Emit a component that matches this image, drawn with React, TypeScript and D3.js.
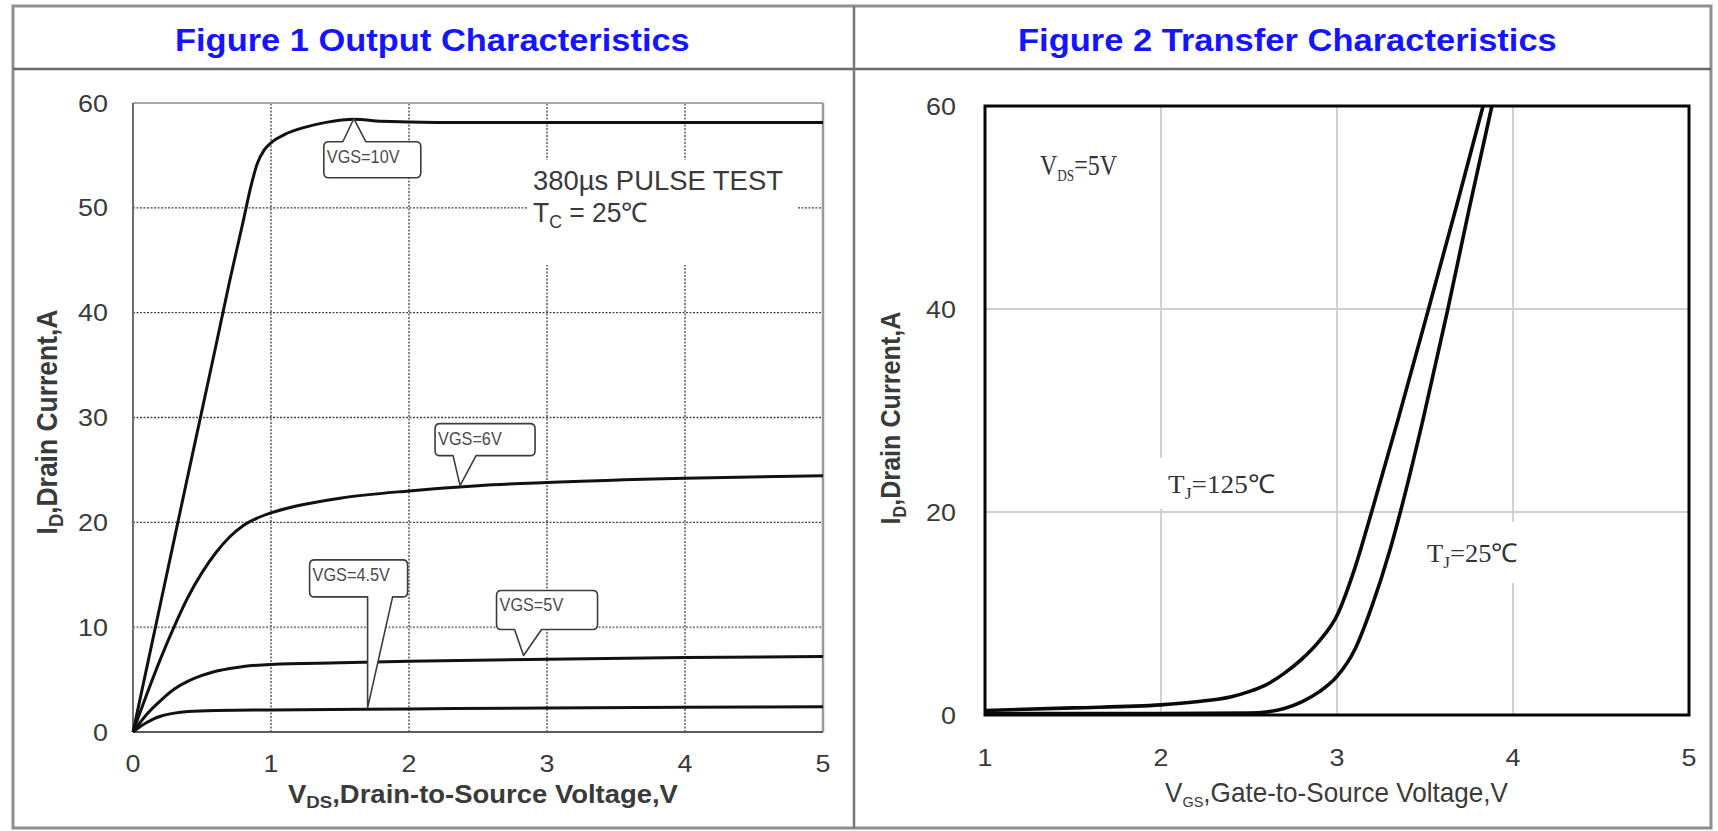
import { useEffect, useRef } from "react"
import * as d3 from "d3"

type Pt = [number, number]

// Figure 1: output characteristics, [VDS, ID]
const outTicksX = [0, 1, 2, 3, 4, 5]
const outTicksY = [0, 10, 20, 30, 40, 50, 60]
const vgs10: Pt[] = [[0, 0], [0.2, 12.3], [0.4, 24.6], [0.6, 36.8], [0.7, 43], [0.8, 48.8], [0.85, 51.8], [0.9, 54.2], [0.95, 55.5], [1.0, 56.2], [1.1, 57.0], [1.25, 57.7], [1.4, 58.15], [1.6, 58.45], [1.8, 58.25], [2.2, 58.15], [3, 58.15], [4, 58.15], [5, 58.15]]
const vgs6: Pt[] = [[0, 0], [0.1, 3.6], [0.2, 7], [0.3, 10.1], [0.4, 12.9], [0.5, 15.2], [0.6, 17.1], [0.7, 18.6], [0.8, 19.7], [0.9, 20.4], [1, 20.9], [1.2, 21.6], [1.5, 22.3], [2, 23], [2.5, 23.5], [3, 23.8], [4, 24.2], [5, 24.45]]
const vgs5: Pt[] = [[0, 0], [0.1, 1.7], [0.2, 3.0], [0.3, 4.1], [0.4, 4.85], [0.5, 5.4], [0.6, 5.8], [0.7, 6.05], [0.8, 6.25], [1, 6.45], [1.5, 6.6], [2, 6.75], [3, 6.95], [4, 7.1], [5, 7.2]]
const vgs45: Pt[] = [[0, 0], [0.05, 0.5], [0.1, 0.9], [0.15, 1.25], [0.2, 1.5], [0.3, 1.8], [0.4, 1.95], [0.6, 2.05], [1, 2.1], [2, 2.2], [3, 2.3], [4, 2.35], [5, 2.4]]
const outCurves = [vgs10, vgs6, vgs5, vgs45]
const outNoteLabels = ["VGS=10V", "VGS=6V", "VGS=5V", "VGS=4.5V"]
const outNoteTips: Pt[] = [[1.6, 58.5], [2.37, 23.5], [2.83, 7.3], [1.7, 2.3]]

// Figure 2: transfer characteristics, [VGS, ID]
const trTicksX = [1, 2, 3, 4, 5]
const trTicksY = [0, 20, 40, 60]
const tj125: Pt[] = [[1, 0.45], [1.5, 0.7], [2, 1.0], [2.2, 1.3], [2.4, 1.8], [2.5, 2.3], [2.6, 3.0], [2.7, 4.1], [2.8, 5.5], [2.9, 7.3], [3.0, 9.8], [3.1, 14.4], [3.2, 20.2], [3.35, 29.3], [3.52, 40], [3.68, 50.2], [3.83, 60]]
const tj25: Pt[] = [[1, 0.15], [2, 0.15], [2.5, 0.2], [2.6, 0.3], [2.7, 0.65], [2.8, 1.3], [2.9, 2.3], [3.0, 3.8], [3.1, 6.4], [3.2, 10.8], [3.3, 16.2], [3.36, 20], [3.49, 29.2], [3.63, 40], [3.75, 49.8], [3.88, 60]]
const trCurves = [tj125, tj25]

const W = 1718
const H = 831
const SANS = "'Liberation Sans', Arial, sans-serif"
const SERIF = "'Liberation Serif', 'Times New Roman', serif"
const BLUE = "#1414ff"
const INK = "#3a3a3a"

// callout boxes, offsets from the tip in px
const noteBoxes = [
  { dx: -30, dy: 23, w: 97, h: 36, side: "top", b0: -11, b1: 12 },
  { dx: -25, dy: -62, w: 100, h: 32, side: "bottom", b0: -7, b1: 16 },
  { dx: -27, dy: -65, w: 101, h: 39, side: "bottom", b0: -9, b1: 18 },
  { dx: -58, dy: -148, w: 98, h: 37, side: "bottom", b0: 0, b1: 25 },
]

function calloutPath(tx: number, ty: number, b: typeof noteBoxes[number]) {
  const l = tx + b.dx, t = ty + b.dy, r = 5, R = l + b.w, B = t + b.h
  const p = d3.path()
  p.moveTo(l + r, t)
  if (b.side === "top") {
    p.lineTo(tx + b.b0, t); p.lineTo(tx, ty); p.lineTo(tx + b.b1, t)
  }
  p.lineTo(R - r, t)
  p.quadraticCurveTo(R, t, R, t + r)
  p.lineTo(R, B - r)
  p.quadraticCurveTo(R, B, R - r, B)
  if (b.side === "bottom") {
    p.lineTo(tx + b.b1, B); p.lineTo(tx, ty); p.lineTo(tx + b.b0, B)
  }
  p.lineTo(l + r, B)
  p.quadraticCurveTo(l, B, l, B - r)
  p.lineTo(l, t + r)
  p.quadraticCurveTo(l, t, l + r, t)
  p.closePath()
  return p.toString()
}

type Sel = d3.Selection<SVGTextElement, unknown, null, undefined>

// stretch a text horizontally so it spans the wanted width
function fit(t: Sel, x: number, y: number, width: number) {
  const len = t.node()!.getComputedTextLength()
  t.attr("transform", `translate(${x},${y}) scale(${width / len},1)`)
}

function fitV(t: Sel, cx: number, bx: number, length: number, sy: number) {
  const len = t.node()!.getComputedTextLength()
  t.attr("text-anchor", "middle")
    .attr("transform", `translate(${bx},${cx}) rotate(-90) scale(${length / len},${sy})`)
}

function withSub(t: Sel, main: string, sub: string, rest: string, subSize: number, shift: number) {
  t.append("tspan").text(main)
  t.append("tspan").attr("font-size", subSize).attr("dy", shift).text(sub)
  t.append("tspan").attr("dy", -shift).text(rest)
  return t
}

export default function App() {
  const svgRef = useRef<SVGSVGElement>(null)

  useEffect(() => {
    if (!svgRef.current) return
    const svg = d3.select(svgRef.current)
    svg.selectAll("*").remove()
    const root = svg.append("g") as unknown as d3.Selection<SVGGElement, unknown, null, undefined>

    // frame + title cells
    root.append("rect").attr("x", 13).attr("y", 6).attr("width", 1698).attr("height", 822)
      .attr("fill", "#fff").attr("stroke", "#8f8f8f").attr("stroke-width", 3)
    root.append("line").attr("x1", 13).attr("x2", 1711).attr("y1", 69).attr("y2", 69)
      .attr("stroke", "#6a6a6a").attr("stroke-width", 2.5)
    root.append("line").attr("x1", 854).attr("x2", 854).attr("y1", 6).attr("y2", 828)
      .attr("stroke", "#7a7a7a").attr("stroke-width", 2.5)

    const title = (s: string, x: number, w: number) => {
      const t = root.append("text").attr("font-family", SANS).attr("font-weight", "bold")
        .attr("font-size", 32).attr("fill", BLUE).text(s)
      fit(t, x, 51, w)
    }
    title("Figure 1 Output Characteristics", 175, 515)
    title("Figure 2 Transfer Characteristics", 1018, 539)

    // ---------- Figure 1 ----------
    const x1 = d3.scaleLinear().domain([0, 5]).range([133, 823])
    const y1 = d3.scaleLinear().domain([0, 60]).range([732, 103])
    const g1 = root.append("g")

    g1.append("g").selectAll("line").data(outTicksX.slice(1, -1)).join("line")
      .attr("x1", d => x1(d)).attr("x2", d => x1(d)).attr("y1", y1(0)).attr("y2", y1(60))
      .attr("stroke", "#444").attr("stroke-width", 1.3).attr("stroke-dasharray", "2,1.5")
    g1.append("g").selectAll("line").data(outTicksY.slice(1, -1)).join("line")
      .attr("x1", x1(0)).attr("x2", x1(5)).attr("y1", d => y1(d)).attr("y2", d => y1(d))
      .attr("stroke", d => d === 10 ? "#8a8a8a" : "#444").attr("stroke-width", d => d === 10 ? 2 : 1.3)
      .attr("stroke-dasharray", "2,1.5")

    g1.append("line").attr("x1", x1(0)).attr("x2", x1(5)).attr("y1", y1(60)).attr("y2", y1(60))
      .attr("stroke", "#a8a8a8").attr("stroke-width", 2)
    g1.append("line").attr("x1", x1(5)).attr("x2", x1(5)).attr("y1", y1(60)).attr("y2", y1(0))
      .attr("stroke", "#9a9a9a").attr("stroke-width", 2.5)
    g1.append("line").attr("x1", x1(0)).attr("x2", x1(0)).attr("y1", y1(60)).attr("y2", y1(0))
      .attr("stroke", "#6e6e6e").attr("stroke-width", 2)
    g1.append("line").attr("x1", x1(0)).attr("x2", x1(5)).attr("y1", y1(0)).attr("y2", y1(0))
      .attr("stroke", "#5a5a5a").attr("stroke-width", 2.2)

    // pulse test note
    g1.append("rect").attr("x", 527).attr("y", 160).attr("width", 270).attr("height", 105).attr("fill", "#fff")
    fit(g1.append("text").attr("font-family", SANS).attr("font-size", 27).attr("fill", INK)
      .text("380\u00b5s PULSE TEST"), 533, 190, 250)
    fit(withSub(g1.append("text").attr("font-family", SANS).attr("font-size", 27).attr("fill", INK),
      "T", "C", " = 25\u2103", 18, 6), 533, 222, 115)

    const line1 = d3.line<Pt>().x(d => x1(d[0])).y(d => y1(d[1])).curve(d3.curveMonotoneX)
    g1.append("g").selectAll("path").data(outCurves).join("path")
      .attr("d", d => line1(d)).attr("fill", "none").attr("stroke", "#111")
      .attr("stroke-width", 3).attr("stroke-linejoin", "round")

    outNoteTips.forEach((tip, i) => {
      const tx = x1(tip[0]), ty = y1(tip[1]), b = noteBoxes[i]
      g1.append("path").attr("d", calloutPath(tx, ty, b)).attr("fill", "#fff")
        .attr("stroke", "#3c3c3c").attr("stroke-width", 1.6).attr("stroke-linejoin", "round")
      const t = g1.append("text").attr("font-family", SANS).attr("font-size", 17.5).attr("fill", "#4a4a4a")
        .text(outNoteLabels[i])
      t.attr("transform", `translate(${tx + b.dx + 3},${ty + b.dy + 21}) scale(0.93,1)`)
    })

    outTicksY.forEach(v => {
      const t = g1.append("text").attr("font-family", SANS).attr("font-size", 24).attr("fill", INK)
        .attr("text-anchor", "end").text(v)
      t.attr("transform", `translate(108,${y1(v) + 8.5}) scale(1.12,1)`)
    })
    outTicksX.forEach(v => {
      const t = g1.append("text").attr("font-family", SANS).attr("font-size", 24).attr("fill", INK)
        .attr("text-anchor", "middle").text(v)
      t.attr("transform", `translate(${x1(v)},772) scale(1.12,1)`)
    })
    fit(withSub(g1.append("text").attr("font-family", SANS).attr("font-weight", "bold").attr("font-size", 25).attr("fill", INK),
      "V", "DS", ",Drain-to-Source Voltage,V", 17, 5), 288, 803, 390)
    fitV(withSub(g1.append("text").attr("font-family", SANS).attr("font-weight", "bold").attr("font-size", 26).attr("fill", INK),
      "I", "D", ",Drain Current,A", 18, 5), 422, 57, 225, 1.12)

    // ---------- Figure 2 ----------
    const x2 = d3.scaleLinear().domain([1, 5]).range([985, 1689])
    const y2 = d3.scaleLinear().domain([0, 60]).range([715, 106])
    const g2 = root.append("g")

    g2.append("g").selectAll("line").data(trTicksX.slice(1, -1)).join("line")
      .attr("x1", d => x2(d)).attr("x2", d => x2(d)).attr("y1", y2(0)).attr("y2", y2(60))
      .attr("stroke", "#d2d2d2").attr("stroke-width", 2)
    g2.append("g").selectAll("line").data(trTicksY.slice(1, -1)).join("line")
      .attr("x1", x2(1)).attr("x2", x2(5)).attr("y1", d => y2(d)).attr("y2", d => y2(d))
      .attr("stroke", "#cfcfcf").attr("stroke-width", 2)

    // white patches behind the serif notes
    g2.append("rect").attr("x", 1030).attr("y", 135).attr("width", 95).attr("height", 53).attr("fill", "#fff")
    g2.append("rect").attr("x", 1155).attr("y", 458).attr("width", 130).attr("height", 51).attr("fill", "#fff")
    g2.append("rect").attr("x", 1420).attr("y", 522).attr("width", 105).attr("height", 61).attr("fill", "#fff")

    fit(withSub(g2.append("text").attr("font-family", SERIF).attr("font-size", 29).attr("fill", "#333"),
      "V", "DS", "=5V", 16, 6), 1040, 175, 77)
    fit(withSub(g2.append("text").attr("font-family", SERIF).attr("font-size", 26).attr("fill", "#333"),
      "T", "J", "=125\u2103", 17, 6), 1168, 493, 107)
    fit(withSub(g2.append("text").attr("font-family", SERIF).attr("font-size", 26).attr("fill", "#333"),
      "T", "J", "=25\u2103", 17, 6), 1427, 562, 91)

    const line2 = d3.line<Pt>().x(d => x2(d[0])).y(d => y2(d[1])).curve(d3.curveMonotoneX)
    g2.append("g").selectAll("path").data(trCurves).join("path")
      .attr("d", d => line2(d)).attr("fill", "none").attr("stroke", "#0a0a0a")
      .attr("stroke-width", 3.6).attr("stroke-linejoin", "round")

    g2.append("rect").attr("x", x2(1)).attr("y", y2(60)).attr("width", x2(5) - x2(1)).attr("height", y2(0) - y2(60))
      .attr("fill", "none").attr("stroke", "#050505").attr("stroke-width", 3)

    trTicksY.forEach(v => {
      const t = g2.append("text").attr("font-family", SANS).attr("font-size", 24).attr("fill", INK)
        .attr("text-anchor", "end").text(v)
      t.attr("transform", `translate(956,${y2(v) + 8.5}) scale(1.12,1)`)
    })
    trTicksX.forEach(v => {
      const t = g2.append("text").attr("font-family", SANS).attr("font-size", 24).attr("fill", INK)
        .attr("text-anchor", "middle").text(v)
      t.attr("transform", `translate(${x2(v)},766) scale(1.12,1)`)
    })
    fit(withSub(g2.append("text").attr("font-family", SANS).attr("font-size", 27).attr("fill", INK),
      "V", "GS", ",Gate-to-Source Voltage,V", 15, 5), 1165, 802, 343)
    fitV(withSub(g2.append("text").attr("font-family", SANS).attr("font-weight", "bold").attr("font-size", 25).attr("fill", INK),
      "I", "D", ",Drain Current,A", 16, 5), 418, 900, 213, 1.1)
  }, [])

  return (
    <svg ref={svgRef} width={W} height={H}
      style={{ position: "absolute", left: 0, top: 0, background: "#fff" }} />
  )
}
